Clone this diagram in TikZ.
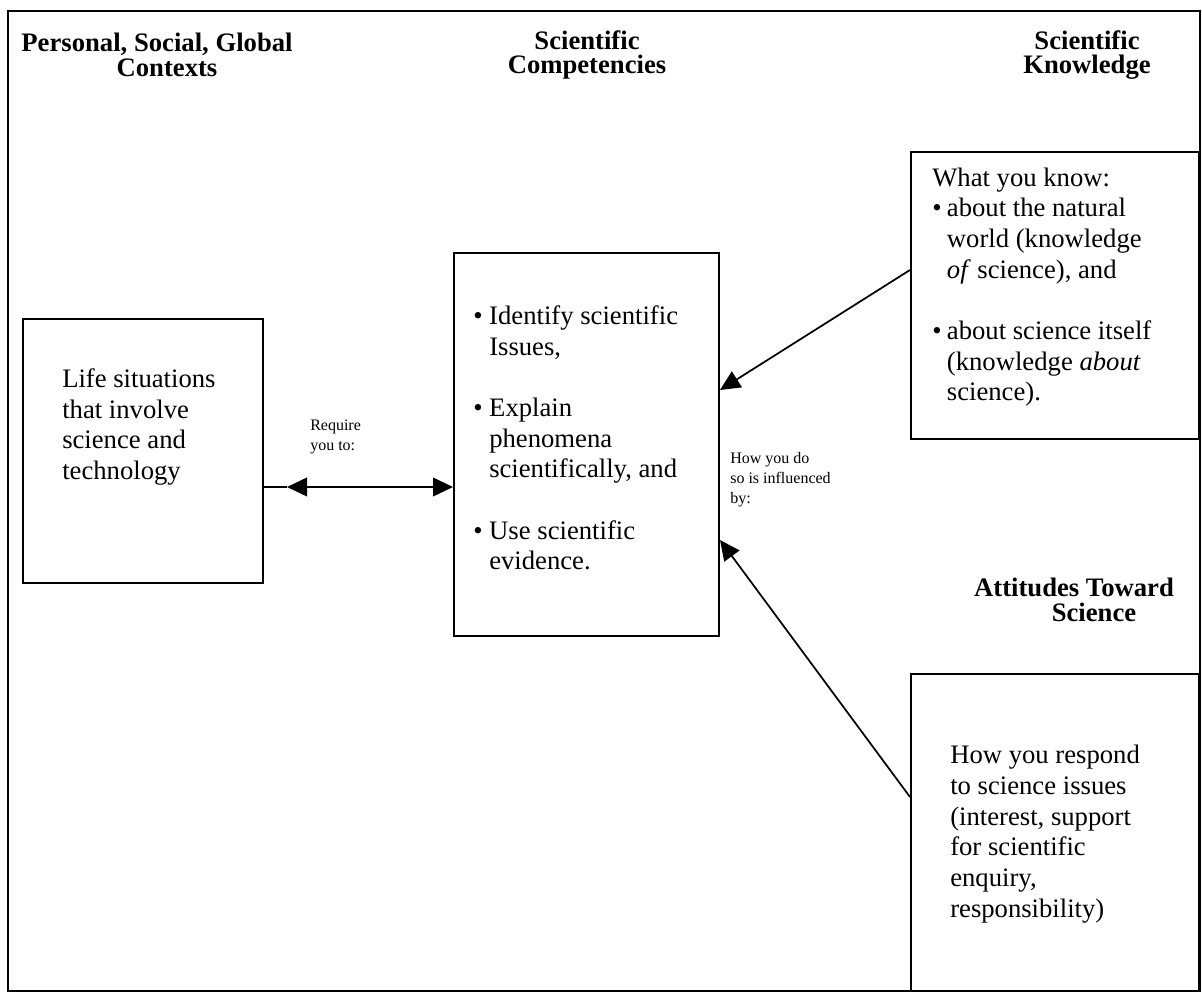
\documentclass[tikz,border=0pt]{standalone}
\usepackage{fontspec}
\setmainfont{Liberation Serif}
\usetikzlibrary{arrows.meta}
\begin{document}
\begin{tikzpicture}[x=0.75pt,y=-0.75pt,
 box/.style={draw, line width=1.5pt, rectangle, inner sep=0pt, anchor=north west},
 body/.style={font=\fontsize{20}{23}\selectfont, align=left, anchor=north west, inner sep=0pt},
 head/.style={font=\fontsize{20}{18.5}\selectfont\bfseries, align=center, inner sep=0pt},
 small/.style={font=\fontsize{12}{15}\selectfont, align=left, anchor=north west, inner sep=0pt},
 conn/.style={line width=1.3pt, -{Triangle[length=15pt,width=14pt]}},
 dbl/.style={line width=1.3pt, {Triangle[length=15pt,width=14pt]}-{Triangle[length=15pt,width=14pt]}}]
\useasboundingbox (0,0) rectangle (1202,1002);
\node[box, minimum width=894pt, minimum height=735pt] (frame) at (7,10) {};
% headings
\node[head] (h1) at (157,55) {Personal, Social, Global\\\hspace*{15pt}Contexts};
\node[head] (h2) at (587,55) {Scientific\\Competencies};
\node[head] (h3) at (1087,55) {Scientific\\Knowledge};
\node[head] (h4) at (1074,600) {Attitudes Toward\\\hspace*{30pt}Science};
% boxes
\node[box, minimum width=180pt, minimum height=198pt] (life) at (22,318) {};
\node[box, minimum width=198.75pt, minimum height=287.25pt] (comp) at (453,252) {};
\node[box, minimum width=216pt, minimum height=215.25pt] (know) at (910,151) {};
\node[box, minimum width=216pt, minimum height=237.75pt] (att) at (910,673) {};
% texts
\node[body] (lifetxt) at (62,368.5) {Life situations\\that involve\\science and\\technology};
\node[body] (comptxt) at (473,305.5) {\makebox[12pt][l]{\textbullet}Identify scientific\\
\hspace*{12pt}Issues,\\[23pt]
\makebox[12pt][l]{\textbullet}Explain\\
\hspace*{12pt}phenomena\\
\hspace*{12pt}scientifically, and\\[23pt]
\makebox[12pt][l]{\textbullet}Use scientific\\
\hspace*{12pt}evidence.};
\node[body] (knowtxt) at (932,167.5) {What you know:\\
\makebox[11pt][l]{\textbullet}about the natural\\
\hspace*{11pt}world (knowledge\\
\hspace*{11pt}\textit{of} science), and\\[23pt]
\makebox[11pt][l]{\textbullet}about science itself\\
\hspace*{11pt}(knowledge \textit{about}\\
\hspace*{11pt}science).};
\node[body] (atttxt) at (950,745) {How you respond\\to science issues\\(interest, support\\for scientific\\enquiry,\\responsibility)};
\node[small] (req) at (310,420) {Require\\you to:};
\node[small] (infl) at (730,452) {How you do\\so is influenced\\by:};
% connectors
\coordinate (r1) at (0,487);
\coordinate (lt) at (287,0);
\coordinate (k1) at (0,270);
\coordinate (c1) at (0,390);
\coordinate (t1) at (0,797);
\coordinate (c2) at (0,540);
\draw[line width=1.3pt] (life.east |- r1) -- (lt |- r1);
\draw[dbl] (lt |- r1) -- (comp.west |- r1);
\draw[conn] (know.west |- k1) -- (comp.east |- c1);
\draw[conn] (att.west |- t1) -- (comp.east |- c2);
\end{tikzpicture}
\end{document}
